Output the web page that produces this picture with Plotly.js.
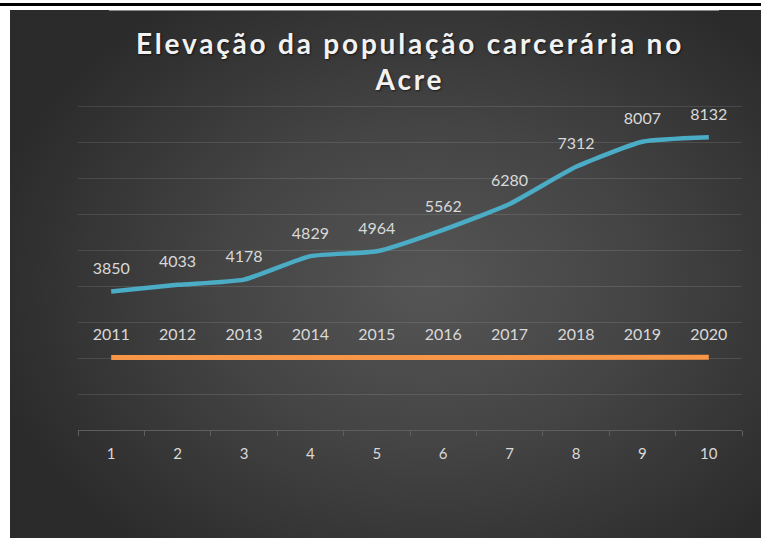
<!DOCTYPE html>
<html>
<head>
<meta charset="utf-8">
<script src="https://cdn.plot.ly/plotly-3.0.1.min.js"></script>
<style>
  html, body { margin: 0; padding: 0; background: #ffffff; }
  body { width: 761px; height: 538px; position: relative; overflow: hidden; }
  #topbar { position: absolute; left: 0; top: 3px; width: 761px; height: 3px; background: #000; }
  #bg { position: absolute; left: 10px; top: 10px; width: 751px; height: 528px;
        background: radial-gradient(ellipse 60% 65% at 56% 52%, #555555 0%, #454545 45%, #2b2b2b 100%); }
  #hl { position: absolute; left: 109px; top: 10px; width: 610px; height: 1px; background: #8a8a8a; }
  #chart { position: absolute; left: 0; top: 0; width: 761px; height: 538px; }
  .gtitle { letter-spacing: 2.8px; }
</style>
</head>
<body>
<div id="topbar"></div>
<div id="bg"></div>
<div id="hl"></div>
<div id="chart"></div>
<script>
const categories = ['1', '2', '3', '4', '5', '6', '7', '8', '9', '10'];
const populacao = [3850, 4033, 4178, 4829, 4964, 5562, 6280, 7312, 8007, 8132];
const anos = [2011, 2012, 2013, 2014, 2015, 2016, 2017, 2018, 2019, 2020];
const titleText = 'Elevação da população carcerária no<br>Acre';

const labelFont = { family: 'Lato, "Open Sans", sans-serif', size: 16, color: '#d9d9d9' };

const traces = [
  {
    x: categories, y: populacao, type: 'scatter', mode: 'lines+markers+text',
    text: populacao.map(String), textposition: 'top center', textfont: labelFont,
    line: { color: '#4bacc6', width: 4.5, shape: 'spline', smoothing: 0.5 },
    marker: { size: 20, color: 'rgba(0,0,0,0)' },
    hoverinfo: 'none', cliponaxis: false
  },
  {
    x: categories, y: anos, type: 'scatter', mode: 'lines+markers+text',
    text: anos.map(String), textposition: 'top center', textfont: labelFont,
    line: { color: '#f79646', width: 5 },
    marker: { size: 20, color: 'rgba(0,0,0,0)' },
    hoverinfo: 'none', cliponaxis: false
  }
];

const layout = {
  width: 761, height: 538,
  paper_bgcolor: 'rgba(0,0,0,0)', plot_bgcolor: 'rgba(0,0,0,0)',
  margin: { l: 78, r: 19, t: 104, b: 108 },
  showlegend: false,
  title: {
    text: titleText,
    font: { family: 'Lato, "Open Sans", sans-serif', size: 28, weight: 'bold', color: '#f2f2f2',
            shadow: '1px 1px 2px rgba(0,0,0,0.6)' },
    x: 0.5, xref: 'paper', xanchor: 'center',
    y: 0.8996, yref: 'container', yanchor: 'top'
  },
  xaxis: {
    type: 'category', tickson: 'boundaries', range: [-0.5, 9.5],
    showgrid: false, zeroline: false,
    showline: true, linecolor: '#5e5e5e', linewidth: 1,
    ticks: 'outside', ticklen: 5, tickcolor: '#5e5e5e', tickwidth: 1,
    tickfont: { family: 'Lato, "Open Sans", sans-serif', size: 15, color: '#d9d9d9' },
    ticklabelstandoff: 10, fixedrange: true
  },
  yaxis: {
    range: [0, 9055.5], dtick: 1000, tick0: 0,
    showgrid: true, gridcolor: 'rgba(255,255,255,0.11)', gridwidth: 1,
    showticklabels: false, zeroline: false, showline: false, ticks: '', fixedrange: true
  }
};

Plotly.newPlot('chart', traces, layout, { displayModeBar: false, staticPlot: true });
</script>
</body>
</html>
